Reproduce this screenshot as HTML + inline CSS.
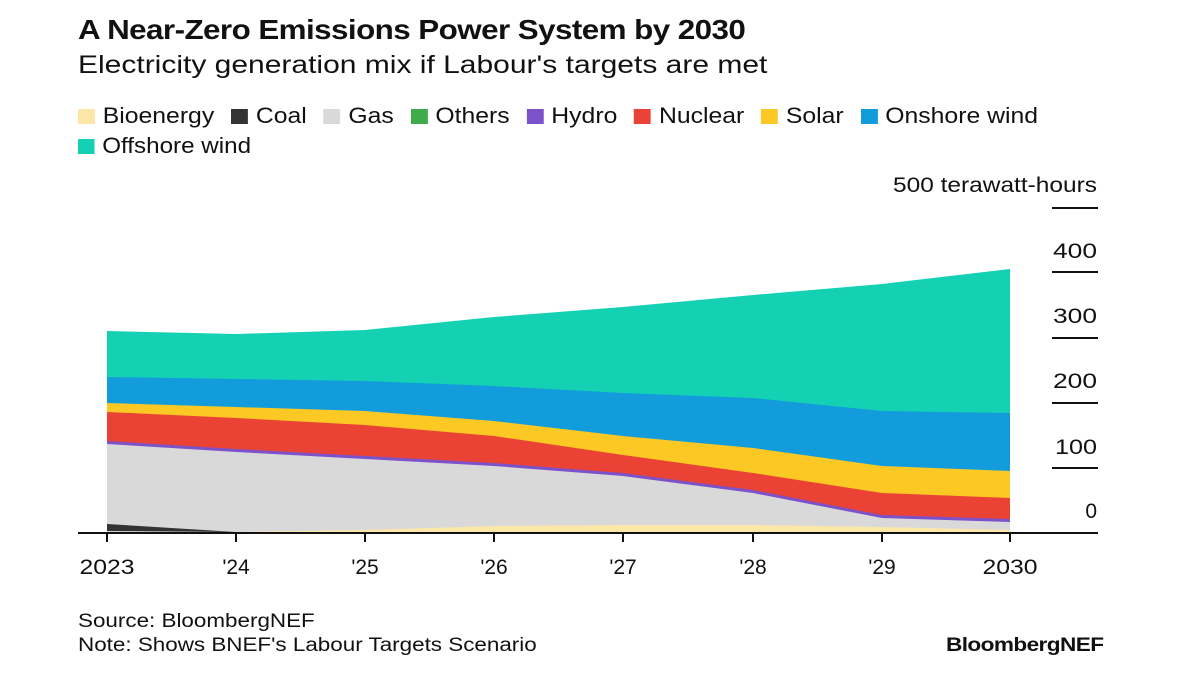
<!DOCTYPE html><html><head><style>
body{margin:0;background:#fff;width:1179px;height:683px;overflow:hidden;font-family:"Liberation Sans",sans-serif;color:#111}
.t{position:absolute;white-space:nowrap;transform-origin:0 0}
.sw{display:inline-block;width:15px;height:15px;margin-right:7px;vertical-align:-1px}
.lg span.i{margin-right:15px}
</style></head><body>
<div class="t" style="left:78px;top:14px;font-size:28px;font-weight:bold;letter-spacing:-0.5px;transform:scaleX(1.12)">A Near-Zero Emissions Power System by 2030</div>
<div class="t" style="left:78px;top:51px;font-size:25px;transform:scaleX(1.2)">Electricity generation mix if Labour's targets are met</div>
<div class="t lg" style="left:78px;top:103px;font-size:22px;transform:scaleX(1.125)">
<span class="i"><span class="sw" style="background:#fde7a8"></span>Bioenergy</span><span class="i"><span class="sw" style="background:#333"></span>Coal</span><span class="i"><span class="sw" style="background:#d9d9d9"></span>Gas</span><span class="i"><span class="sw" style="background:#3fab4a"></span>Others</span><span class="i"><span class="sw" style="background:#7b52c9"></span>Hydro</span><span class="i"><span class="sw" style="background:#ea4335"></span>Nuclear</span><span class="i"><span class="sw" style="background:#fcc824"></span>Solar</span><span class="i"><span class="sw" style="background:#129cdc"></span>Onshore wind</span></div>
<div class="t" style="left:78px;top:133px;font-size:22px;transform:scaleX(1.1)"><span class="sw" style="background:#14d1b4"></span>Offshore wind</div>
<svg width="1179" height="683" style="position:absolute;left:0;top:0">
<g>
<polygon fill="#14d1b4" points="107,331 236,334 365,330 494,317 623,307 753,295 882,284 1010,269 1010,533 107,533"/>
<polygon fill="#129cdc" points="107,377 236,379 365,381 494,386 623,393 753,398 882,411 1010,413 1010,533 107,533"/>
<polygon fill="#fcc824" points="107,403 236,407 365,411 494,421 623,436 753,448 882,466 1010,471 1010,533 107,533"/>
<polygon fill="#ea4335" points="107,412 236,418 365,425 494,436 623,455 753,473 882,493 1010,498 1010,533 107,533"/>
<polygon fill="#7b52c9" points="107,441 236,449 365,456 494,463 623,473 753,490 882,515 1010,519 1010,533 107,533"/>
<polygon fill="#d9d9d9" points="107,444 236,452 365,459 494,466 623,476 753,493 882,518 1010,522 1010,533 107,533"/>
<polygon fill="#fde7a8" points="107,532 236,532 365,530 494,526 623,525 753,525 882,527 1010,530 1010,533 107,533"/>
<polygon fill="#333" points="107,524 236,532 107,531"/>
</g>
<g stroke="#111" stroke-width="2" fill="none">
<line x1="78" y1="533" x2="1098" y2="533"/>
<line x1="1052" y1="208" x2="1098" y2="208"/>
<line x1="1052" y1="272" x2="1098" y2="272"/>
<line x1="1052" y1="338" x2="1098" y2="338"/>
<line x1="1052" y1="403" x2="1098" y2="403"/>
<line x1="1052" y1="468" x2="1098" y2="468"/>
<line x1="107" y1="533" x2="107" y2="542"/><line x1="236" y1="533" x2="236" y2="542"/><line x1="365" y1="533" x2="365" y2="542"/><line x1="494" y1="533" x2="494" y2="542"/><line x1="623" y1="533" x2="623" y2="542"/><line x1="753" y1="533" x2="753" y2="542"/><line x1="882" y1="533" x2="882" y2="542"/><line x1="1010" y1="533" x2="1010" y2="542"/>
</g>
<g font-family="Liberation Sans,sans-serif" font-size="21" fill="#111" text-anchor="end">
<text x="1097" y="192" textLength="204" lengthAdjust="spacingAndGlyphs">500 terawatt-hours</text>
<text x="1097" y="258" textLength="44" lengthAdjust="spacingAndGlyphs">400</text><text x="1097" y="323" textLength="44" lengthAdjust="spacingAndGlyphs">300</text><text x="1097" y="388" textLength="44" lengthAdjust="spacingAndGlyphs">200</text><text x="1097" y="454" textLength="42" lengthAdjust="spacingAndGlyphs">100</text><text x="1097" y="518">0</text>
</g>
<g font-family="Liberation Sans,sans-serif" font-size="21" fill="#111" text-anchor="middle">
<text x="107" y="574" textLength="55" lengthAdjust="spacingAndGlyphs">2023</text><text x="236" y="574">'24</text><text x="365" y="574">'25</text><text x="494" y="574">'26</text><text x="623" y="574">'27</text><text x="753" y="574">'28</text><text x="882" y="574">'29</text><text x="1010" y="574" textLength="55" lengthAdjust="spacingAndGlyphs">2030</text>
</g>
</svg>
<div class="t" style="left:78px;top:611px;font-size:19px;transform:scaleX(1.18)">Source: BloombergNEF</div>
<div class="t" style="left:78px;top:635px;font-size:19px;transform:scaleX(1.18)">Note: Shows BNEF's Labour Targets Scenario</div>
<div class="t" style="left:946px;top:635px;font-size:19px;font-weight:bold;letter-spacing:-0.5px;transform:scaleX(1.19)">BloombergNEF</div>
</body></html>
